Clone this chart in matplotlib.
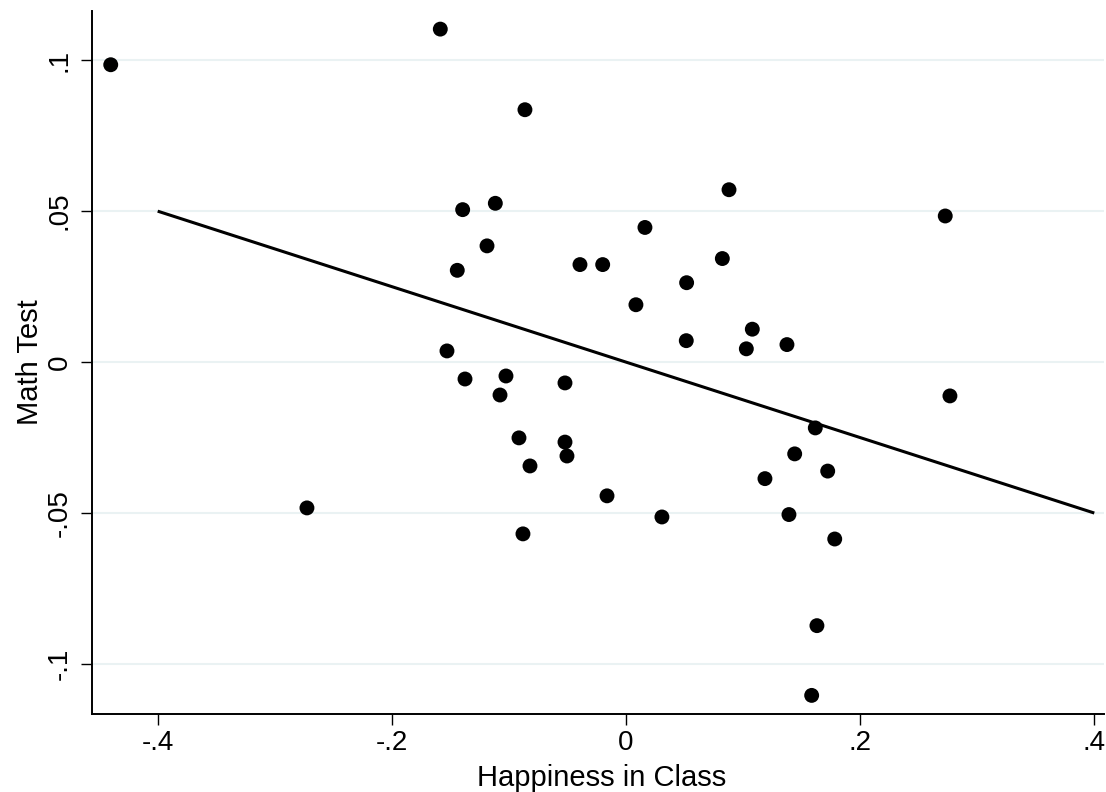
import matplotlib
matplotlib.use("Agg")
import matplotlib.pyplot as plt
import numpy as np

plt.rcParams['font.family'] = ['Liberation Sans', 'DejaVu Sans']

happiness = [-0.4401, -0.1586, -0.0863, -0.2725, 0.0880, 0.2727, 0.2767,
             -0.1395, -0.1116, -0.1187, -0.1441, 0.0162, -0.0393, -0.0199,
             0.0085, 0.0518, 0.0823, 0.1079, 0.0515, 0.1028, 0.1375,
             -0.1529, -0.1375, -0.1025, -0.1076, -0.0521, -0.0914, -0.0820,
             -0.0521, -0.0504, -0.0162, -0.0880, 0.0307, 0.1617, 0.1441,
             0.1723, 0.1187, 0.1392, 0.1783, 0.1631, 0.1586]
math_test = [0.0985, 0.1103, 0.0836, -0.0483, 0.0571, 0.0484, -0.0112,
             0.0505, 0.0526, 0.0385, 0.0304, 0.0446, 0.0323, 0.0323,
             0.0190, 0.0263, 0.0343, 0.0109, 0.0071, 0.0044, 0.0058,
             0.0037, -0.0056, -0.0046, -0.0109, -0.0069, -0.0251, -0.0344,
             -0.0265, -0.0311, -0.0443, -0.0569, -0.0513, -0.0218, -0.0304,
             -0.0361, -0.0386, -0.0505, -0.0586, -0.0873, -0.1104]

fit_x = [-0.4, 0.4]
fit_y = [0.05, -0.05]

x_ticks = [-0.4, -0.2, 0, 0.2, 0.4]
x_ticklabels = ['-.4', '-.2', '0', '.2', '.4']
y_ticks = [-0.1, -0.05, 0, 0.05, 0.1]
y_ticklabels = ['-.1', '-.05', '0', '.05', '.1']

fig = plt.figure(figsize=(11.06, 7.92), dpi=100)
ax = fig.add_axes([92/1106, 1 - 713.5/792, (1104-92)/1106, (713.5-11)/792])

ax.set_xlim(-0.4561, 0.4083)
ax.set_ylim(-0.1164, 0.1163)

for yv in y_ticks:
    ax.axhline(yv, color='#eaf2f3', lw=1.5, zorder=0)

ax.scatter(happiness, math_test, s=115, color='black', edgecolors='none', zorder=3)
ax.plot(fit_x, fit_y, color='black', lw=2.2, zorder=2, solid_capstyle='butt')

for s in ['top', 'right']:
    ax.spines[s].set_visible(False)
for s in ['left', 'bottom']:
    ax.spines[s].set_linewidth(1.4)

ax.set_xticks(x_ticks)
ax.set_xticklabels(x_ticklabels)
ax.set_yticks(y_ticks)
ax.set_yticklabels(y_ticklabels, rotation=90, va='center')
ax.tick_params(axis='both', length=8, width=1.0, labelsize=20, color='black')
ax.tick_params(axis='x', pad=4)
ax.tick_params(axis='y', pad=6)

ax.set_xlabel('Happiness in Class', fontsize=21, labelpad=6)
ax.set_ylabel('Math Test', fontsize=21, labelpad=2)
# centre the x title slightly right of the axes centre, as in the reference
ax.xaxis.label.set_x((602 - 92) / (1104 - 92))

fig.savefig('out.png', dpi=100, facecolor='white')
